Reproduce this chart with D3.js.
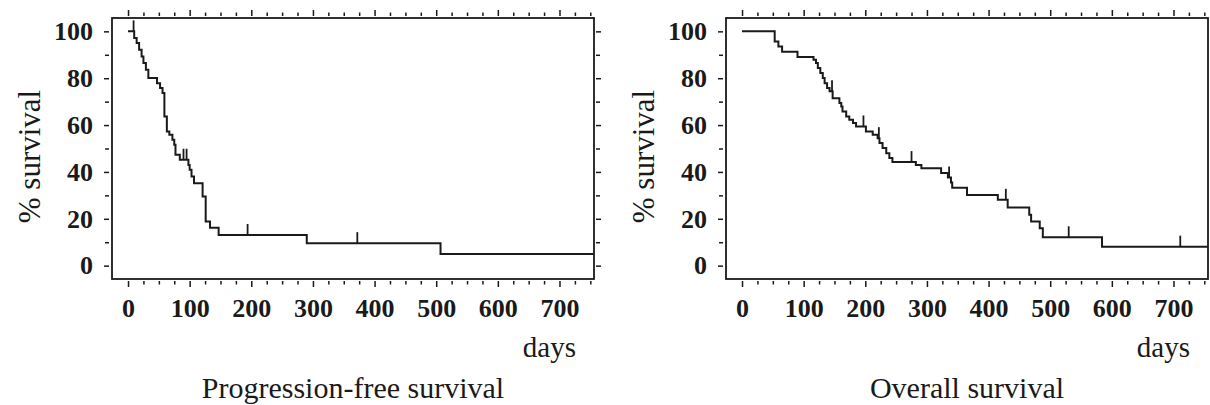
<!DOCTYPE html>
<html>
<head>
<meta charset="utf-8">
<script src="https://cdn.jsdelivr.net/npm/d3@7"></script>
<style>
  body { margin: 0; background: #fff; }
  svg { display: block; }
  text { font-family: "Liberation Serif", "Times New Roman", serif; fill: #1a1a1a; }
</style>
</head>
<body>
<div id="chart"></div>
<script>
// Kaplan-Meier curves: day of each step and % surviving after it
var pfsDays = [0, 10, 14, 18, 22, 25, 29, 33, 47, 52, 56, 59, 63, 67, 72, 75, 77, 84, 98, 100, 103, 107, 121, 126, 133, 147, 290, 507];
var pfsSurv = [100, 97.2, 95.0, 92.2, 89.3, 86.5, 83.6, 80.1, 77.9, 75.8, 73.7, 63.7, 57.3, 55.9, 53.7, 51.6, 47.3, 45.2, 43.0, 40.9, 38.0, 35.2, 29.5, 18.8, 16.2, 13.1, 9.6, 5.0];
var pfsCensored = [9, 90, 95, 194, 372];

var osDays = [0, 53, 59, 65, 90, 116, 120, 123, 127, 131, 134, 138, 142, 147, 158, 161, 163, 169, 174, 180, 185, 201, 212, 220, 223, 228, 234, 239, 244, 282, 291, 323, 334, 339, 341, 365, 415, 431, 466, 469, 483, 488, 584];
var osSurv = [100, 95.7, 93.5, 91.3, 89.1, 87.9, 86.5, 84.4, 82.2, 80.1, 77.9, 75.8, 74.4, 71.5, 69.4, 67.9, 65.8, 63.7, 62.3, 60.9, 59.4, 57.3, 55.9, 54.4, 52.3, 50.2, 48.0, 45.9, 44.2, 43.0, 41.6, 39.5, 37.6, 35.5, 33.3, 30.2, 28.1, 24.8, 21.7, 18.8, 16.0, 12.1, 8.1];
var osCensored = [146, 197, 222, 275, 336, 428, 530, 711];

// axis ticks
var xMajorTicks = [0, 100, 200, 300, 400, 500, 600, 700];
var xMinorTicks = [25, 50, 75, 125, 150, 175, 225, 250, 275, 325, 350, 375, 425, 450, 475, 525, 550, 575, 625, 650, 675, 725, 750];
var yMajorTicks = [0, 20, 40, 60, 80, 100];
var yMinorTicks = [10, 30, 50, 70, 90];

var panelTitles = ["Progression-free survival", "Overall survival"];

var width = 1210, height = 405;
var top_ = 18, bottom_ = 279;
var xDomain = [-26, 756], yDomain = [-5.7, 105.7];
var ink = "#1a1a1a";

var svg = d3.select("#chart").append("svg")
    .attr("width", width)
    .attr("height", height);

var panels = [
  { left: 112, right: 594, days: pfsDays, surv: pfsSurv, censored: pfsCensored, title: panelTitles[0] },
  { left: 726, right: 1208, days: osDays, surv: osSurv, censored: osCensored, title: panelTitles[1] }
];

panels.forEach(function(p) {
  var x = d3.scaleLinear().domain(xDomain).range([p.left, p.right]);
  var y = d3.scaleLinear().domain(yDomain).range([bottom_, top_]);
  var g = svg.append("g");

  // frame
  g.append("rect")
      .attr("x", p.left).attr("y", top_)
      .attr("width", p.right - p.left).attr("height", bottom_ - top_)
      .attr("fill", "none").attr("stroke", ink).attr("stroke-width", 1.8);

  var gap = 2;
  function styleAxis(sel) {
    sel.select(".domain").remove();
    sel.selectAll(".tick line").attr("stroke", ink).attr("stroke-width", 1.5);
  }

  // left
  g.append("g").attr("transform", "translate(" + (p.left - gap - 1) + ",0)")
      .call(d3.axisLeft(y).tickValues(yMajorTicks).tickSize(5).tickPadding(11))
      .call(styleAxis)
      .selectAll("text")
        .style("font-family", "'Liberation Serif', serif")
        .style("font-size", "26px").style("font-weight", "bold").attr("fill", ink);
  g.append("g").attr("transform", "translate(" + (p.left - gap - 1) + ",0)")
      .call(d3.axisLeft(y).tickValues(yMinorTicks).tickSize(4).tickFormat(""))
      .call(styleAxis);

  // right
  [yMajorTicks, yMinorTicks].forEach(function(t, i) {
    g.append("g").attr("transform", "translate(" + (p.right + gap) + ",0)")
        .call(d3.axisRight(y).tickValues(t).tickSize(i ? 4 : 5).tickFormat(""))
        .call(styleAxis);
  });

  // bottom
  g.append("g").attr("transform", "translate(0," + (bottom_ + gap) + ")")
      .call(d3.axisBottom(x).tickValues(xMajorTicks).tickSize(6).tickPadding(12))
      .call(styleAxis)
      .selectAll("text")
        .style("font-family", "'Liberation Serif', serif")
        .style("font-size", "26px").style("font-weight", "bold").attr("fill", ink);
  g.append("g").attr("transform", "translate(0," + (bottom_ + gap) + ")")
      .call(d3.axisBottom(x).tickValues(xMinorTicks).tickSize(3.5).tickFormat(""))
      .call(styleAxis);

  // top
  [xMajorTicks, xMinorTicks].forEach(function(t, i) {
    g.append("g").attr("transform", "translate(0," + (top_ - gap) + ")")
        .call(d3.axisTop(x).tickValues(t).tickSize(i ? 3.5 : 6).tickFormat(""))
        .call(styleAxis);
  });

  // survival curve
  var pts = p.days.map(function(d, i) { return [d, p.surv[i]]; });
  pts.push([xDomain[1], p.surv[p.surv.length - 1]]);
  var line = d3.line()
      .x(function(d) { return x(d[0]); })
      .y(function(d) { return y(d[1]); })
      .curve(d3.curveStepAfter);
  g.append("path")
      .datum(pts)
      .attr("d", line)
      .attr("fill", "none")
      .attr("stroke", ink)
      .attr("stroke-width", 2);

  // censor marks
  g.selectAll(".censor")
      .data(p.censored)
      .enter().append("line")
      .attr("class", "censor")
      .attr("x1", function(d) { return x(d); })
      .attr("x2", function(d) { return x(d); })
      .attr("y1", function(d) { return y(p.surv[d3.bisectRight(p.days, d) - 1]); })
      .attr("y2", function(d) { return y(p.surv[d3.bisectRight(p.days, d) - 1]) - 11; })
      .attr("stroke", ink)
      .attr("stroke-width", 1.8);

  // labels
  g.append("text")
      .attr("transform", "translate(" + (p.left - 83) + "," + ((top_ + bottom_) / 2 + 8) + ") rotate(-90)")
      .attr("text-anchor", "middle")
      .attr("dy", "0.35em")
      .style("font-size", "31px")
      .text("% survival");

  g.append("text")
      .attr("x", p.right - 18)
      .attr("y", 357)
      .attr("text-anchor", "end")
      .style("font-size", "29px")
      .text("days");

  g.append("text")
      .attr("x", (p.left + p.right) / 2)
      .attr("y", 398)
      .attr("text-anchor", "middle")
      .style("font-size", "30px")
      .text(p.title);
});
</script>
</body>
</html>
